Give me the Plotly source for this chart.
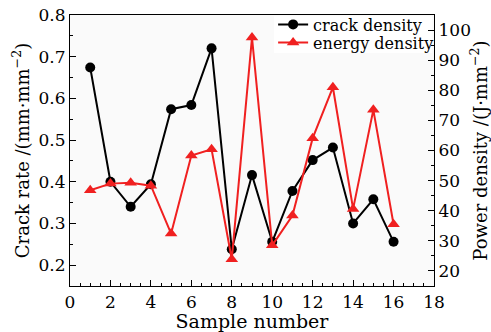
import plotly.graph_objects as go

samples = list(range(1, 17))
crack_density = [0.674, 0.400, 0.340, 0.394, 0.574, 0.584, 0.720, 0.238,
                 0.416, 0.256, 0.378, 0.452, 0.482, 0.300, 0.358, 0.256]
energy_density = [46.8, 49.0, 49.3, 48.3, 32.4, 58.3, 60.4, 23.9,
                  97.5, 28.5, 38.4, 64.1, 81.0, 40.6, 73.5, 35.5]

FONT = "DejaVu Serif"

fig = go.Figure()
fig.add_trace(go.Scatter(
    x=samples, y=crack_density, name="crack density", mode="lines+markers",
    line=dict(color="black", width=2),
    marker=dict(symbol="circle", size=10, color="black"),
    yaxis="y", legend="legend"))
fig.add_trace(go.Scatter(
    x=samples, y=energy_density, name="energy density", mode="lines+markers",
    line=dict(color="#f02020", width=2),
    marker=dict(symbol="triangle-up", size=11, color="#f02020"),
    yaxis="y2", legend="legend2"))

axis_common = dict(showline=True, linecolor="black", linewidth=1.2,
                   ticks="inside", tickcolor="black", showgrid=False,
                   zeroline=False, tickfont=dict(family=FONT, size=17, color="black"))

legend_common = dict(xanchor="left", yanchor="middle",
                     bgcolor="rgba(255,255,255,0)", borderwidth=0,
                     font=dict(family=FONT, size=16, color="black"),
                     itemwidth=30, tracegroupgap=0)

fig.update_layout(
    width=491, height=332,
    margin=dict(l=70, r=57, t=15, b=46, autoexpand=False),
    paper_bgcolor="white", plot_bgcolor="#fafafa",
    font=dict(family=FONT, color="black"),
    showlegend=True,
    shapes=[dict(type="rect", xref="paper", yref="paper",
                 x0=0.56, x1=0.995, y0=0.86, y1=0.995,
                 fillcolor="white", line=dict(width=0), layer="below")],
    legend=dict(x=0.558, y=0.965, **legend_common),
    legend2=dict(x=0.558, y=0.898, **legend_common),
    xaxis=dict(range=[0, 18], dtick=2, ticklen=6,
               minor=dict(dtick=0.5, ticks="inside", ticklen=3, tickcolor="black"),
               mirror=True,
               title=dict(text="Sample number", font=dict(family=FONT, size=19), standoff=2),
               **axis_common),
    yaxis=dict(range=[0.15, 0.8], dtick=0.1, tickformat=".1f", ticklen=6,
               minor=dict(dtick=0.05, ticks="inside", ticklen=3, tickcolor="black"),
               title=dict(text="Crack rate /(mm·mm<sup>−2</sup>)",
                          font=dict(family=FONT, size=18), standoff=4),
               **axis_common),
    yaxis2=dict(range=[15, 105], ticklen=6, overlaying="y", side="right",
                tickvals=[20, 30, 40, 50, 60, 70, 80, 90, 100],
                minor=dict(dtick=5, ticks="inside", ticklen=3, tickcolor="black"),
                title=dict(text="Power density /(J·mm<sup>−2</sup>)",
                           font=dict(family=FONT, size=18), standoff=4),
                **axis_common),
)

fig.write_html("out.html")
